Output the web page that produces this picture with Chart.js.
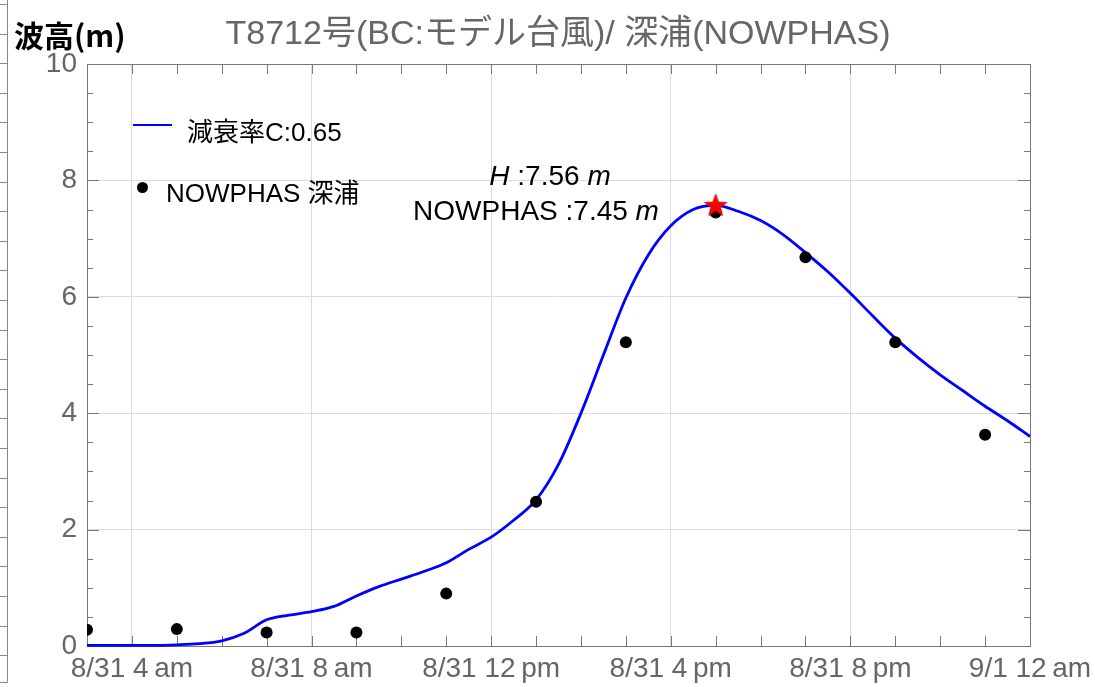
<!DOCTYPE html>
<html>
<head>
<meta charset="utf-8">
<script src="https://cdn.jsdelivr.net/npm/chart.js@4.4.0/dist/chart.umd.min.js"></script>
<style>
  body { margin: 0; background: #fff; }
  #wrap { position: relative; width: 1095px; height: 687px; overflow: hidden; }
  .txt { position: absolute; white-space: nowrap; font-family: "Liberation Sans", Arial, "Noto Sans CJK JP", sans-serif; }
  #ylab { left: 14px; top: 12px; font: bold 30px "Noto Sans CJK JP", sans-serif; color: #000; }
  #ttl { left: 558px; top: 5px; transform: translateX(-50%); font-size: 34px; color: #666; }
  #leg1 { left: 187px; top: 111px; font-size: 26px; color: #000; }
  #leg2 { left: 166px; top: 172px; font-size: 26px; color: #000; }
  #legLine { position: absolute; left: 133px; top: 124px; width: 39px; height: 2px; background: #0000ff; }
  #legDot { position: absolute; left: 137px; top: 182px; width: 11px; height: 11px; border-radius: 50%; background: #000; }
  #ann1 { left: 550px; top: 160px; transform: translateX(-50%); font-size: 28px; color: #000; }
  #ann2 { left: 536px; top: 195px; transform: translateX(-50%); font-size: 28px; color: #000; }
  i { font-style: italic; }
</style>
</head>
<body>
<div id="wrap">
  <canvas id="mychart1" width="1095" height="687"></canvas>
  <div class="txt" id="ylab">波高(m)</div>
  <div class="txt" id="ttl">T8712号(BC:モデル台風)/ 深浦(NOWPHAS)</div>
  <div id="legLine"></div>
  <div class="txt" id="leg1">減衰率C:0.65</div>
  <div id="legDot"></div>
  <div class="txt" id="leg2">NOWPHAS 深浦</div>
  <div class="txt" id="ann1"><i>H</i> :7.56 <i>m</i></div>
  <div class="txt" id="ann2">NOWPHAS :7.45 <i>m</i></div>
</div>
<script>
// hours after 8/31 3 am
var curveHours = [0,0.5,1,1.5,2,2.5,3,3.5,4,4.5,5,5.5,6,6.5,7,7.5,8,8.5,9,9.5,10,10.5,
                  11,11.5,12,12.5,13,13.5,14,14.5,15,15.5,16,16.5,17,17.5,18,18.5,19,19.5,20,20.5,21];
var curveValues = [0.01,0.01,0.01,0.01,0.02,0.04,0.09,0.22,0.45,0.53,0.59,0.68,0.86,1.02,1.15,1.28,
                   1.43,1.66,1.87,2.16,2.51,3.12,4.00,5.00,5.98,6.72,7.22,7.50,7.57,7.47,7.31,7.07,
                   6.76,6.43,6.06,5.67,5.29,4.96,4.66,4.39,4.12,3.87,3.60];
var obsHours = [0,2,4,6,8,10,12,14,16,18,20];
var obsValues = [0.28,0.29,0.23,0.23,0.90,2.48,5.22,7.45,6.68,5.22,3.63];
var peakHour = [14];
var peakValue = [7.56];
var tickHours = [1,5,9,13,17,21];
var tickLabels = ["8/31 4\u2009am","8/31 8\u2009am","8/31 12\u2009pm","8/31 4\u2009pm","8/31 8\u2009pm","9/1 12\u2009am"];

function toXY(xs, ys){
  var out = [];
  for (var i = 0; i < xs.length; i++) out.push({x: xs[i], y: ys[i]});
  return out;
}

// filled red star for the peak marker
function makeStar(){
  var c = document.createElement('canvas');
  c.width = 26; c.height = 26;
  var g = c.getContext('2d');
  g.beginPath();
  for (var i = 0; i < 10; i++) {
    var r = (i % 2 === 0) ? 12 : 5;
    var a = -Math.PI / 2 + i * Math.PI / 5;
    var px = 13 + r * Math.cos(a), py = 13 + r * Math.sin(a);
    if (i === 0) g.moveTo(px, py); else g.lineTo(px, py);
  }
  g.closePath();
  g.fillStyle = '#ff0000';
  g.fill();
  g.strokeStyle = '#b00000';
  g.lineWidth = 0.6;
  g.stroke();
  return c;
}

// frame + inward tick marks like the original plot
var frameTicks = {
  id: 'frameTicks',
  beforeDatasetsDraw: function(chart){
    var ctx = chart.ctx, a = chart.chartArea;
    var xs = chart.scales.x, ys = chart.scales.y;
    ctx.save();
    ctx.strokeStyle = '#777';
    ctx.lineWidth = 1;
    ctx.beginPath();
    for (var h = 0; h <= 21; h++) {
      var px = Math.round(xs.getPixelForValue(h)) + 0.5;
      ctx.moveTo(px, a.bottom); ctx.lineTo(px, a.bottom - 10);
      ctx.moveTo(px, a.top); ctx.lineTo(px, a.top + 10);
    }
    for (var v = 0; v <= 10; v += 0.5) {
      var py = Math.round(ys.getPixelForValue(v)) + 0.5;
      var len = (v % 2 === 0) ? 12 : 6;
      ctx.moveTo(a.left, py); ctx.lineTo(a.left + len, py);
      ctx.moveTo(a.right, py); ctx.lineTo(a.right - len, py);
    }
    ctx.stroke();
    ctx.strokeRect(Math.round(a.left) + 0.5, Math.round(a.top) + 0.5,
                   Math.round(a.right - a.left), Math.round(a.bottom - a.top));
    // leftover axis strip at the far left edge of the original image
    ctx.strokeStyle = '#888';
    ctx.beginPath();
    ctx.moveTo(7.5, 0); ctx.lineTo(7.5, 682.5); ctx.lineTo(0, 682.5);
    for (var y = 4; y < 680; y += 29.6) {
      ctx.moveTo(0, Math.round(y) + 0.5); ctx.lineTo(7.5, Math.round(y) + 0.5);
    }
    ctx.stroke();
    ctx.restore();
  }
};

var ctx = document.getElementById('mychart1').getContext('2d');
var mychart = new Chart(ctx, {
  type: 'scatter',
  data: {
    datasets: [
      {
        label: 'star', data: toXY(peakHour, peakValue),
        pointStyle: makeStar(), pointRadius: 13, order: 0, clip: false
      },
      {
        label: 'NOWPHAS 深浦', data: toXY(obsHours, obsValues),
        backgroundColor: '#000', borderColor: '#000', pointRadius: 6, borderWidth: 0,
        order: 1, clip: 0
      },
      {
        label: '減衰率C:0.65', type: 'line', data: toXY(curveHours, curveValues),
        borderColor: '#0000ff', borderWidth: 2.8, pointRadius: 0, fill: false,
        cubicInterpolationMode: 'monotone', order: 2, clip: 2
      }
    ]
  },
  plugins: [frameTicks],
  options: {
    responsive: false,
    animation: false,
    layout: { padding: { top: 64, right: 65, left: 0, bottom: 0 } },
    plugins: { legend: { display: false }, tooltip: { enabled: false } },
    scales: {
      x: {
        type: 'linear', min: 0, max: 21,
        afterBuildTicks: function(s){ s.ticks = tickHours.map(function(h){ return {value: h}; }); },
        afterFit: function(s){ s.height = 41; s.paddingLeft = 0; s.paddingRight = 0; },
        ticks: {
          autoSkip: false, maxRotation: 0, padding: 6, color: '#666',
          font: { family: '"Liberation Sans", Arial', size: 28 },
          callback: function(v){ return tickLabels[tickHours.indexOf(v)]; }
        },
        grid: { color: '#dcdcdc', drawTicks: false },
        border: { display: false }
      },
      y: {
        min: 0, max: 10,
        afterFit: function(s){ s.width = 87; s.paddingTop = 0; s.paddingBottom = 0; },
        ticks: {
          stepSize: 2, padding: 10, color: '#666',
          font: { family: '"Liberation Sans", Arial', size: 28 }
        },
        grid: { color: '#dcdcdc', drawTicks: false },
        border: { display: false }
      }
    }
  }
});
</script>
</body>
</html>
